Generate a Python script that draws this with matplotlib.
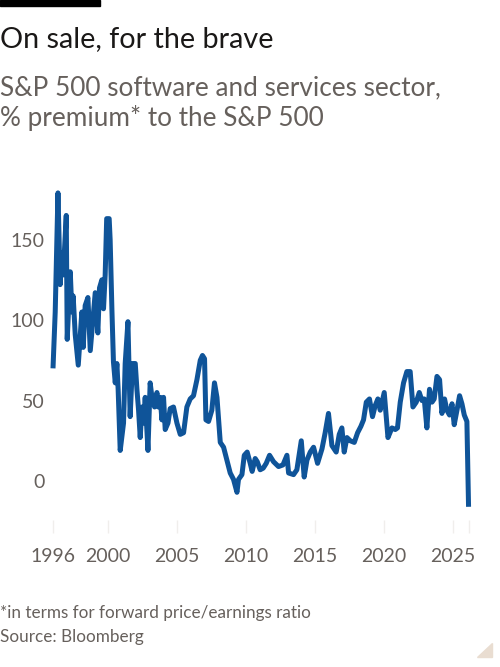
import matplotlib
matplotlib.use("Agg")
import matplotlib.pyplot as plt
from matplotlib.patches import Rectangle, Polygon

# premium of S&P 500 software & services sector to S&P 500 (%)
years = [1996.00, 1996.16, 1996.36, 1996.52, 1996.63, 1996.74, 1996.96, 1997.03, 1997.25, 1997.37,
         1997.46, 1997.61, 1997.83, 1998.09, 1998.19, 1998.33, 1998.53, 1998.70, 1999.06, 1999.25,
         1999.37, 1999.54, 1999.66, 1999.78, 1999.89, 2000.07, 2000.14, 2000.27, 2000.38, 2000.51,
         2000.63, 2000.72, 2000.87, 2001.11, 2001.23, 2001.43, 2001.59, 2001.76, 2001.96, 2002.08,
         2002.20, 2002.32, 2002.44, 2002.56, 2002.68, 2002.88, 2003.04, 2003.17, 2003.36, 2003.53,
         2003.64, 2003.77, 2003.89, 2004.01, 2004.13, 2004.33, 2004.49, 2004.73, 2004.98, 2005.22,
         2005.46, 2005.70, 2005.94, 2006.18, 2006.43, 2006.67, 2006.83, 2006.98, 2007.08, 2007.27,
         2007.51, 2007.70, 2007.88, 2008.12, 2008.36, 2008.60, 2008.84, 2009.08, 2009.33, 2009.44,
         2009.69, 2009.86, 2010.07, 2010.29, 2010.43, 2010.65, 2010.80, 2011.01, 2011.23, 2011.45,
         2011.69, 2011.98, 2012.34, 2012.66, 2012.95, 2013.07, 2013.43, 2013.67, 2013.99, 2014.20,
         2014.40, 2014.64, 2014.88, 2015.17, 2015.49, 2015.72, 2015.96, 2016.21, 2016.52, 2016.74,
         2016.93, 2017.10, 2017.30, 2017.54, 2017.83, 2018.07, 2018.31, 2018.50, 2018.70, 2018.93,
         2019.15, 2019.35, 2019.54, 2019.71, 2020.00, 2020.27, 2020.56, 2020.80, 2020.96, 2021.16,
         2021.40, 2021.64, 2021.88, 2022.08, 2022.32, 2022.54, 2022.73, 2022.90, 2023.09, 2023.28,
         2023.46, 2023.62, 2023.82, 2024.01, 2024.18, 2024.37, 2024.54, 2024.73, 2024.91, 2025.07,
         2025.27, 2025.46, 2025.63, 2025.80, 2025.99, 2026.11]
premium = [70, 105, 179, 122, 142, 128, 165, 88, 130, 105,
           115, 91, 72, 105, 83, 109, 114, 81, 117, 92,
           120, 125, 107, 128, 163, 163, 150, 106, 74, 61,
           73, 57, 19, 36, 73, 99, 40, 73, 73, 57,
           44, 27, 46, 36, 52, 19, 61, 52, 46, 55,
           46, 52, 38, 52, 32, 36, 45, 46, 36, 29,
           30, 46, 51, 53, 63, 75, 78, 76, 38, 37,
           44, 61, 52, 24, 21, 13, 5, 1, -7, 1,
           4, 16, 18, 11, 6, 14, 12, 7, 8, 11,
           16, 12, 9, 10, 16, 5, 4, 7, 25, 2.5,
           13, 18, 21, 11, 20, 30, 42, 22, 18, 29,
           33, 18, 27, 25, 24, 30, 34, 38, 49, 51,
           40, 47, 51, 44, 55, 27, 33, 32, 33, 49,
           61, 68, 68, 46, 49, 55, 50, 51, 33, 57,
           49, 51, 65, 63, 42, 51, 44, 41, 48, 35,
           44, 53, 48, 41, 37, -16]

tick_years = [1996, 2000, 2005, 2010, 2015, 2020, 2025, 2026.11]
tick_labels = ["1996", "2000", "2005", "2010", "2015", "2020", "2025", ""]
y_ticks = [0, 50, 100, 150]

W, H = 500, 667
plt.rcParams['font.family'] = ['Lato', 'DejaVu Sans']
fig = plt.figure(figsize=(W / 100, H / 100), dpi=100)
fig.patch.set_facecolor('white')

def fx(px):
    return px / W

def fy(py):
    return 1 - py / H

# black bar top-left
fig.patches.append(Rectangle((0, fy(6)), fx(100), 6 / H, transform=fig.transFigure,
                             color='black', zorder=5))

fig.text(fx(0), fy(47), "On sale, for the brave", fontsize=20.7, color='#1a1817', va='baseline')
fig.text(fx(0), fy(95), "S&P 500 software and services sector,", fontsize=18.8,
         color='#66605c', va='baseline')
fig.text(fx(0), fy(126), "% premium* to the S&P 500", fontsize=18.8,
         color='#66605c', va='baseline')

ax = fig.add_axes([fx(53), fy(520), fx(469.8) - fx(53), (520 - 185) / H])
ax.plot(years, premium, color='#0f5499', lw=3.6, solid_joinstyle='round',
        solid_capstyle='butt', clip_on=False)
ax.set_xlim(1996, 2026.2)
ax.set_ylim(-24.2, 183.9)

for s in ax.spines.values():
    s.set_visible(False)
ax.set_facecolor('none')

ax.set_yticks(y_ticks)
ax.set_yticklabels([str(v) for v in y_ticks])
ax.tick_params(axis='y', length=0, pad=6, labelsize=14, labelcolor='#66605c')
ax.set_xticks(tick_years)
ax.set_xticklabels(tick_labels)
ax.tick_params(axis='x', length=9, width=1, color='#f0eeec', pad=11,
               labelsize=14, labelcolor='#66605c')

fig.text(fx(0), fy(618), "*in terms for forward price/earnings ratio", fontsize=12.3,
         color='#66605c', va='baseline')
fig.text(fx(0), fy(642), "Source: Bloomberg", fontsize=12.3, color='#66605c', va='baseline')

# little corner mark bottom right
fig.patches.append(Polygon([[fx(492), fy(643)], [fx(492), fy(657)], [fx(477), fy(657)]],
                           closed=True, transform=fig.transFigure, color='#e9ddd1'))

fig.savefig('out.png', dpi=100)
